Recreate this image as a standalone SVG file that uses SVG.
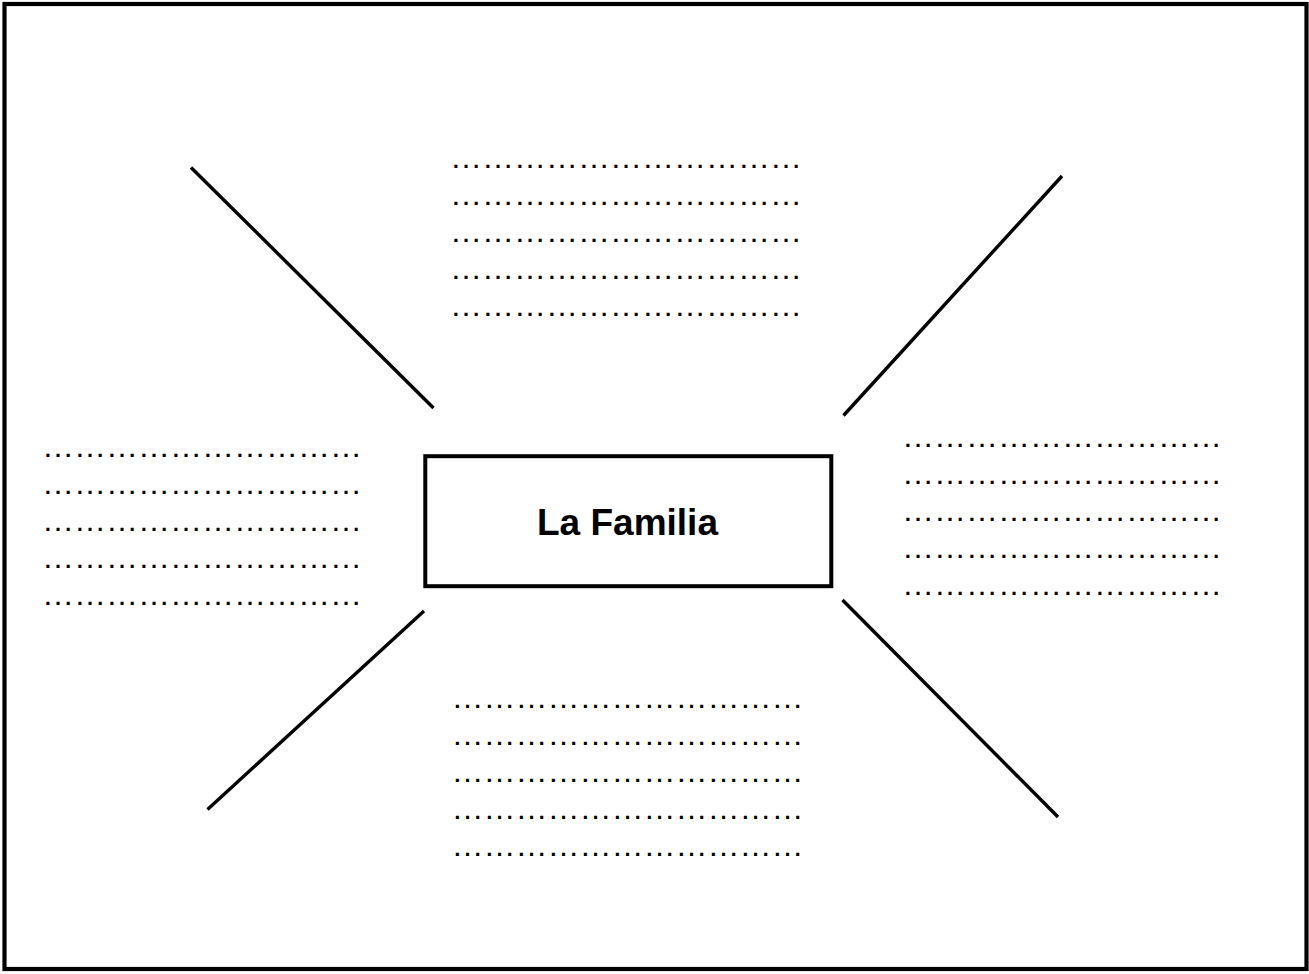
<svg xmlns="http://www.w3.org/2000/svg" width="1309" height="974" viewBox="0 0 1309 974">
<style>
.dots{font-family:"Liberation Sans",Arial,sans-serif;font-size:32px;fill:#000}
.conn{stroke:#000;stroke-width:3.4;fill:none}
.title{font-family:"Liberation Sans",Arial,sans-serif;font-size:37px;font-weight:bold;fill:#000}
</style>
<rect x="0" y="0" width="1309" height="974" fill="#fff"/>
<rect id="frame" x="4.5" y="4" width="1302" height="965" fill="none" stroke="#000" stroke-width="4.2"/>
<g id="connectors">
<line class="conn" x1="191" y1="167.5" x2="433.5" y2="408"/>
<line class="conn" x1="1062" y1="176" x2="843.5" y2="415.5"/>
<line class="conn" x1="424" y1="611" x2="207.5" y2="809.5"/>
<line class="conn" x1="842.5" y1="600" x2="1058" y2="817"/>
</g>
<g id="center">
<rect x="425.3" y="456.2" width="406" height="130" fill="#fff" stroke="#000" stroke-width="4"/>
<text class="title" x="627.5" y="535" text-anchor="middle">La Familia</text>
</g>
<g id="top-lines">
<text class="dots" x="450" y="167.5">&#8230;&#8230;&#8230;&#8230;&#8230;&#8230;&#8230;&#8230;&#8230;&#8230;&#8230;</text>
<text class="dots" x="450" y="204.5">&#8230;&#8230;&#8230;&#8230;&#8230;&#8230;&#8230;&#8230;&#8230;&#8230;&#8230;</text>
<text class="dots" x="450" y="241.5">&#8230;&#8230;&#8230;&#8230;&#8230;&#8230;&#8230;&#8230;&#8230;&#8230;&#8230;</text>
<text class="dots" x="450" y="278.5">&#8230;&#8230;&#8230;&#8230;&#8230;&#8230;&#8230;&#8230;&#8230;&#8230;&#8230;</text>
<text class="dots" x="450" y="315.5">&#8230;&#8230;&#8230;&#8230;&#8230;&#8230;&#8230;&#8230;&#8230;&#8230;&#8230;</text>
</g>
<g id="left-lines">
<text class="dots" x="42" y="457.3">&#8230;&#8230;&#8230;&#8230;&#8230;&#8230;&#8230;&#8230;&#8230;&#8230;</text>
<text class="dots" x="42" y="494.3">&#8230;&#8230;&#8230;&#8230;&#8230;&#8230;&#8230;&#8230;&#8230;&#8230;</text>
<text class="dots" x="42" y="531.3">&#8230;&#8230;&#8230;&#8230;&#8230;&#8230;&#8230;&#8230;&#8230;&#8230;</text>
<text class="dots" x="42" y="568.3">&#8230;&#8230;&#8230;&#8230;&#8230;&#8230;&#8230;&#8230;&#8230;&#8230;</text>
<text class="dots" x="42" y="605.3">&#8230;&#8230;&#8230;&#8230;&#8230;&#8230;&#8230;&#8230;&#8230;&#8230;</text>
</g>
<g id="right-lines">
<text class="dots" x="902" y="447.3">&#8230;&#8230;&#8230;&#8230;&#8230;&#8230;&#8230;&#8230;&#8230;&#8230;</text>
<text class="dots" x="902" y="484.3">&#8230;&#8230;&#8230;&#8230;&#8230;&#8230;&#8230;&#8230;&#8230;&#8230;</text>
<text class="dots" x="902" y="521.3">&#8230;&#8230;&#8230;&#8230;&#8230;&#8230;&#8230;&#8230;&#8230;&#8230;</text>
<text class="dots" x="902" y="558.3">&#8230;&#8230;&#8230;&#8230;&#8230;&#8230;&#8230;&#8230;&#8230;&#8230;</text>
<text class="dots" x="902" y="595.3">&#8230;&#8230;&#8230;&#8230;&#8230;&#8230;&#8230;&#8230;&#8230;&#8230;</text>
</g>
<g id="bottom-lines">
<text class="dots" x="451.4" y="708.3">&#8230;&#8230;&#8230;&#8230;&#8230;&#8230;&#8230;&#8230;&#8230;&#8230;&#8230;</text>
<text class="dots" x="451.4" y="745.3">&#8230;&#8230;&#8230;&#8230;&#8230;&#8230;&#8230;&#8230;&#8230;&#8230;&#8230;</text>
<text class="dots" x="451.4" y="782.3">&#8230;&#8230;&#8230;&#8230;&#8230;&#8230;&#8230;&#8230;&#8230;&#8230;&#8230;</text>
<text class="dots" x="451.4" y="819.3">&#8230;&#8230;&#8230;&#8230;&#8230;&#8230;&#8230;&#8230;&#8230;&#8230;&#8230;</text>
<text class="dots" x="451.4" y="856.3">&#8230;&#8230;&#8230;&#8230;&#8230;&#8230;&#8230;&#8230;&#8230;&#8230;&#8230;</text>
</g>
</svg>
